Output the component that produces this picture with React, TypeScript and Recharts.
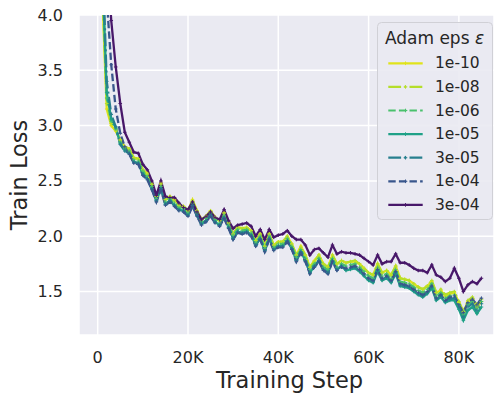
import React from 'react';
import { LineChart, Line, XAxis, YAxis, CartesianGrid, Legend } from 'recharts';

const steps = [1000, 2000, 3000, 4000, 5000, 6000, 7000, 8000, 9000, 10000, 11000, 12000, 13000, 14000, 15000, 16000, 17000, 18000, 19000, 20000, 21000, 22000, 23000, 24000, 25000, 26000, 27000, 28000, 29000, 30000, 31000, 32000, 33000, 34000, 35000, 36000, 37000, 38000, 39000, 40000, 41000, 42000, 43000, 44000, 45000, 46000, 47000, 48000, 49000, 50000, 51000, 52000, 53000, 54000, 55000, 56000, 57000, 58000, 59000, 60000, 61000, 62000, 63000, 64000, 65000, 66000, 67000, 68000, 69000, 70000, 71000, 72000, 73000, 74000, 75000, 76000, 77000, 78000, 79000, 80000, 81000, 82000, 83000, 84000, 85000];

const eps1e10 = [4.2, 3.15, 3.0, 2.95, 2.87, 2.81, 2.79, 2.71, 2.70, 2.60, 2.57, 2.47, 2.36, 2.48, 2.33, 2.36, 2.33, 2.28, 2.27, 2.23, 2.33, 2.23, 2.15, 2.18, 2.23, 2.17, 2.14, 2.21, 2.12, 2.02, 2.08, 2.07, 2.08, 2.05, 1.96, 2.02, 1.91, 2.02, 1.92, 1.95, 1.95, 2.00, 1.93, 1.83, 1.91, 1.83, 1.72, 1.78, 1.83, 1.75, 1.72, 1.83, 1.75, 1.78, 1.76, 1.77, 1.77, 1.75, 1.71, 1.67, 1.65, 1.75, 1.67, 1.69, 1.65, 1.73, 1.62, 1.61, 1.60, 1.57, 1.54, 1.52, 1.55, 1.59, 1.49, 1.51, 1.46, 1.48, 1.49, 1.40, 1.31, 1.41, 1.43, 1.36, 1.41];
const eps1e08 = [4.3, 3.2, 3.02, 2.96, 2.87, 2.81, 2.79, 2.71, 2.70, 2.60, 2.56, 2.47, 2.36, 2.47, 2.33, 2.36, 2.32, 2.28, 2.27, 2.23, 2.32, 2.23, 2.15, 2.18, 2.23, 2.17, 2.14, 2.21, 2.12, 2.02, 2.08, 2.07, 2.08, 2.05, 1.96, 2.02, 1.91, 2.02, 1.92, 1.95, 1.95, 2.00, 1.93, 1.83, 1.90, 1.83, 1.72, 1.77, 1.83, 1.75, 1.72, 1.83, 1.75, 1.78, 1.76, 1.77, 1.78, 1.75, 1.71, 1.67, 1.65, 1.75, 1.67, 1.69, 1.65, 1.73, 1.62, 1.61, 1.60, 1.57, 1.54, 1.52, 1.55, 1.60, 1.49, 1.52, 1.47, 1.49, 1.50, 1.41, 1.32, 1.42, 1.45, 1.38, 1.43];
const eps1e06 = [4.4, 3.25, 3.04, 2.97, 2.85, 2.79, 2.77, 2.69, 2.68, 2.59, 2.54, 2.45, 2.34, 2.45, 2.31, 2.34, 2.30, 2.26, 2.25, 2.21, 2.30, 2.21, 2.13, 2.16, 2.21, 2.15, 2.12, 2.19, 2.10, 2.01, 2.06, 2.05, 2.06, 2.03, 1.94, 2.00, 1.89, 2.00, 1.90, 1.93, 1.93, 1.98, 1.91, 1.81, 1.88, 1.80, 1.70, 1.75, 1.80, 1.72, 1.70, 1.80, 1.72, 1.75, 1.73, 1.74, 1.75, 1.72, 1.68, 1.64, 1.62, 1.72, 1.64, 1.66, 1.62, 1.70, 1.59, 1.58, 1.57, 1.54, 1.51, 1.49, 1.52, 1.57, 1.46, 1.49, 1.44, 1.46, 1.47, 1.38, 1.29, 1.38, 1.41, 1.35, 1.41];
const eps1e05 = [4.45, 3.3, 3.06, 2.98, 2.84, 2.78, 2.75, 2.67, 2.66, 2.56, 2.52, 2.43, 2.32, 2.43, 2.29, 2.32, 2.28, 2.24, 2.23, 2.19, 2.28, 2.19, 2.11, 2.14, 2.19, 2.13, 2.10, 2.17, 2.08, 1.98, 2.04, 2.03, 2.04, 2.01, 1.92, 1.98, 1.87, 1.98, 1.88, 1.91, 1.91, 1.96, 1.89, 1.78, 1.86, 1.78, 1.67, 1.73, 1.78, 1.70, 1.67, 1.78, 1.70, 1.73, 1.69, 1.70, 1.71, 1.68, 1.64, 1.60, 1.58, 1.68, 1.60, 1.62, 1.58, 1.66, 1.55, 1.54, 1.53, 1.50, 1.47, 1.45, 1.48, 1.53, 1.42, 1.45, 1.40, 1.42, 1.42, 1.34, 1.24, 1.33, 1.36, 1.30, 1.36];
const eps3e05 = [4.6, 3.4, 3.1, 2.99, 2.83, 2.77, 2.75, 2.67, 2.66, 2.56, 2.52, 2.43, 2.32, 2.43, 2.29, 2.32, 2.28, 2.24, 2.23, 2.19, 2.28, 2.19, 2.11, 2.14, 2.19, 2.13, 2.10, 2.17, 2.08, 1.98, 2.04, 2.03, 2.04, 2.01, 1.92, 1.98, 1.87, 1.98, 1.88, 1.91, 1.91, 1.96, 1.89, 1.78, 1.86, 1.78, 1.67, 1.73, 1.78, 1.70, 1.67, 1.78, 1.70, 1.73, 1.70, 1.71, 1.72, 1.69, 1.65, 1.61, 1.59, 1.69, 1.61, 1.63, 1.59, 1.67, 1.56, 1.55, 1.54, 1.51, 1.48, 1.46, 1.49, 1.54, 1.43, 1.46, 1.41, 1.43, 1.44, 1.36, 1.27, 1.36, 1.39, 1.33, 1.39];
const eps1e04 = [5.0, 4.15, 3.55, 3.15, 2.93, 2.81, 2.74, 2.66, 2.65, 2.55, 2.51, 2.42, 2.31, 2.42, 2.28, 2.31, 2.27, 2.23, 2.22, 2.18, 2.27, 2.18, 2.10, 2.13, 2.18, 2.12, 2.09, 2.16, 2.07, 1.97, 2.03, 2.02, 2.03, 2.00, 1.91, 1.97, 1.86, 1.97, 1.87, 1.90, 1.90, 1.95, 1.88, 1.77, 1.85, 1.77, 1.66, 1.72, 1.77, 1.69, 1.66, 1.77, 1.69, 1.72, 1.71, 1.72, 1.73, 1.70, 1.66, 1.62, 1.60, 1.70, 1.62, 1.64, 1.60, 1.68, 1.57, 1.56, 1.55, 1.52, 1.49, 1.47, 1.50, 1.55, 1.44, 1.47, 1.42, 1.45, 1.46, 1.38, 1.31, 1.40, 1.43, 1.38, 1.44];
const eps3e04 = [5.8, 4.6, 3.95, 3.53, 3.2, 2.94, 2.85, 2.76, 2.75, 2.65, 2.60, 2.50, 2.37, 2.50, 2.36, 2.35, 2.35, 2.30, 2.26, 2.24, 2.31, 2.22, 2.15, 2.18, 2.22, 2.17, 2.15, 2.24, 2.14, 2.07, 2.10, 2.11, 2.12, 2.09, 2.00, 2.06, 1.97, 2.06, 1.99, 2.01, 2.02, 2.05, 2.00, 1.97, 1.97, 1.92, 1.83, 1.88, 1.89, 1.85, 1.81, 1.92, 1.84, 1.86, 1.85, 1.85, 1.84, 1.83, 1.80, 1.77, 1.74, 1.83, 1.75, 1.77, 1.77, 1.84, 1.76, 1.76, 1.74, 1.71, 1.69, 1.69, 1.67, 1.74, 1.65, 1.63, 1.59, 1.62, 1.71, 1.62, 1.50, 1.56, 1.59, 1.57, 1.62];

const seriesLabels = ['1e-10', '1e-08', '1e-06', '1e-05', '3e-05', '1e-04', '3e-04'];
const seriesKeys = ['e1e10', 'e1e08', 'e1e06', 'e1e05', 'e3e05', 'e1e04', 'e3e04'];
const seriesValues = [eps1e10, eps1e08, eps1e06, eps1e05, eps3e05, eps1e04, eps3e04];
const seriesColors = ['#e0e31a', '#b5de2b', '#4ac16d', '#1fa187', '#277f8e', '#39568c', '#48186a'];
const seriesDash = ['', '12.8 3.2 2 3.2', '7.4 3.2', '', '12.8 3.2 2 3.2', '7.4 3.2', ''];

const xTicks = [0, 20000, 40000, 60000, 80000];
const xTickLabels = ['0', '20K', '40K', '60K', '80K'];
const yTicks = [1.5, 2.0, 2.5, 3.0, 3.5, 4.0];

const data = steps.map((s, i) => {
  const row: Record<string, number> = { step: s };
  seriesKeys.forEach((k, j) => {
    row[k] = seriesValues[j][i];
  });
  return row;
});

const FONT = '"DejaVu Sans", sans-serif';
const TEXT = '#262626';

const makeDot = (color: string) => (props: any) => {
  const { cx, cy, index } = props;
  if (cx == null || cy == null) return <g key={index} />;
  return (
    <path
      key={index}
      d={`M${cx - 1.8},${cy}h3.6M${cx},${cy - 1.8}v3.6`}
      stroke={color}
      strokeWidth={1}
      fill="none"
    />
  );
};

const XTick = (props: any) => {
  const { x, payload } = props;
  const idx = xTicks.indexOf(payload.value);
  return (
    <text x={x} y={357} textAnchor="middle" dominantBaseline="central" fontFamily={FONT} fontSize={16} fill={TEXT}>
      {idx >= 0 ? xTickLabels[idx] : payload.value}
    </text>
  );
};

const YTick = (props: any) => {
  const { y, payload } = props;
  return (
    <text x={63} y={y} textAnchor="end" dominantBaseline="central" fontFamily={FONT} fontSize={16} fill={TEXT}>
      {Number(payload.value).toFixed(1)}
    </text>
  );
};

const LegendBox = () => {
  const rowY = (i: number) => 41.3 + i * 23.6;
  return (
    <svg width={118} height={200} style={{ display: 'block' }}>
      <rect x={0.5} y={0.5} width={115} height={197} rx={4} ry={4} fill="#EAEAF2" fillOpacity={0.9} stroke="#d0d0d6" strokeWidth={1} />
      <text x={57.5} y={16} textAnchor="middle" dominantBaseline="central" fontFamily={FONT} fontSize={17} fill={TEXT}>
        Adam eps <tspan fontStyle="italic">ε</tspan>
      </text>
      {seriesLabels.map((lab, i) => (
        <g key={lab}>
          <line x1={11.3} x2={45.7} y1={rowY(i)} y2={rowY(i)} stroke={seriesColors[i]} strokeWidth={2.2} strokeDasharray={seriesDash[i] || undefined} />
          <path d={`M${28.5 - 1.8},${rowY(i)}h3.6M28.5,${rowY(i) - 1.8}v3.6`} stroke={seriesColors[i]} strokeWidth={1} />
          <text x={58} y={rowY(i)} dominantBaseline="central" fontFamily={FONT} fontSize={15.5} fill={TEXT}>
            {lab}
          </text>
        </g>
      ))}
    </svg>
  );
};

export default function App() {
  return (
    <div style={{ position: 'absolute', left: 0, top: 0, width: 494, height: 398, background: '#ffffff' }}>
      <LineChart width={494} height={398} data={data} margin={{ top: 15, right: 0, bottom: 0, left: 0 }}>
        <CartesianGrid fill="#EAEAF2" stroke="#ffffff" strokeWidth={1.5} />
        <XAxis
          dataKey="step"
          type="number"
          domain={[-4140, 87780]}
          ticks={xTicks}
          allowDataOverflow
          axisLine={false}
          tickLine={false}
          height={63}
          tick={<XTick />}
          interval={0}
        />
        <YAxis
          type="number"
          domain={[1.107, 4.0]}
          ticks={yTicks}
          allowDataOverflow
          axisLine={false}
          tickLine={false}
          width={79}
          tick={<YTick />}
          interval={0}
        />
        {seriesKeys.map((k, i) => (
          <Line
            key={k}
            dataKey={k}
            name={seriesLabels[i]}
            type="linear"
            stroke={seriesColors[i]}
            strokeWidth={2.3}
            strokeDasharray={seriesDash[i] || undefined}
            dot={makeDot(seriesColors[i])}
            activeDot={false}
            isAnimationActive={false}
          />
        ))}
        <Legend
          layout="vertical"
          align="center"
          verticalAlign="middle"
          wrapperStyle={{ left: 377, top: 22, width: 118, height: 200 }}
          content={() => <LegendBox />}
        />
      </LineChart>
      <svg width={494} height={398} style={{ position: 'absolute', left: 0, top: 0, pointerEvents: 'none' }}>
        <text x={289.5} y={380} textAnchor="middle" dominantBaseline="central" fontFamily={FONT} fontSize={22.5} fill={TEXT}>
          Training Step
        </text>
        <text x={19} y={175} textAnchor="middle" dominantBaseline="central" fontFamily={FONT} fontSize={22.5} fill={TEXT} transform="rotate(-90 19 175)">
          Train Loss
        </text>
      </svg>
    </div>
  );
}
